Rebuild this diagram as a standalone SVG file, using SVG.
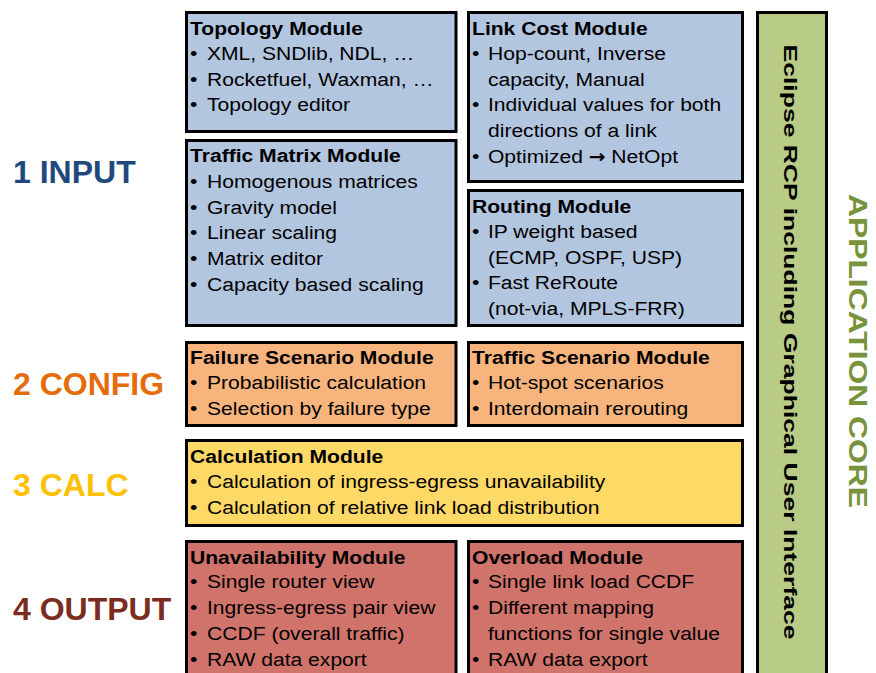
<svg xmlns="http://www.w3.org/2000/svg" width="876" height="673" viewBox="0 0 876 673">
<style>
.box{stroke:#000;stroke-width:3}
.blue{fill:#b3c6df}.orange{fill:#f7b47d}.yellow{fill:#ffd966}.red{fill:#d0736b}.green{fill:#b8cc86}
text{font-family:"Liberation Sans",Arial,sans-serif;fill:#000}
.t{font-size:19px;font-weight:bold}
.b{font-size:19px}
.lbl{font-size:32px;font-weight:bold}
.vert{font-weight:bold}
.arr{font-family:"DejaVu Sans",sans-serif;font-weight:bold;font-size:18px}
</style>
<rect width="876" height="673" fill="#fff"/>

<g id="labels">
<text class="lbl" x="13" y="183" style="fill:#1f497d">1 INPUT</text>
<text class="lbl" x="13" y="395" style="fill:#e46c0a">2 CONFIG</text>
<text class="lbl" x="13" y="496" style="fill:#ffc000">3 CALC</text>
<text class="lbl" x="13" y="620" style="fill:#7b2c20">4 OUTPUT</text>
</g>

<g id="topology">
<rect class="box blue" x="186.5" y="12.5" width="269.5" height="119"/>
<g transform="translate(190 0) scale(1.11 1)">
<text class="t" x="0" y="35">Topology Module</text>
<text class="b" x="0" y="60">•</text><text class="b" x="15.3" y="60">XML, SNDlib, NDL, …</text>
<text class="b" x="0" y="86">•</text><text class="b" x="15.3" y="86">Rocketfuel, Waxman, …</text>
<text class="b" x="0" y="111">•</text><text class="b" x="15.3" y="111">Topology editor</text>
</g>
</g>

<g id="traffic-matrix">
<rect class="box blue" x="186.5" y="140.5" width="269.5" height="185"/>
<g transform="translate(190 0) scale(1.11 1)">
<text class="t" x="0" y="162">Traffic Matrix Module</text>
<text class="b" x="0" y="188">•</text><text class="b" x="15.3" y="188">Homogenous matrices</text>
<text class="b" x="0" y="214">•</text><text class="b" x="15.3" y="214">Gravity model</text>
<text class="b" x="0" y="239">•</text><text class="b" x="15.3" y="239">Linear scaling</text>
<text class="b" x="0" y="265">•</text><text class="b" x="15.3" y="265">Matrix editor</text>
<text class="b" x="0" y="291">•</text><text class="b" x="15.3" y="291">Capacity based scaling</text>
</g>
</g>

<g id="link-cost">
<rect class="box blue" x="468.5" y="12.5" width="274" height="169"/>
<g transform="translate(472 0) scale(1.11 1)">
<text class="t" x="0" y="35">Link Cost Module</text>
<text class="b" x="0" y="60">•</text><text class="b" x="14.4" y="60">Hop-count, Inverse</text>
<text class="b" x="14.4" y="86">capacity, Manual</text>
<text class="b" x="0" y="111">•</text><text class="b" x="14.4" y="111">Individual values for both</text>
<text class="b" x="14.4" y="137">directions of a link</text>
<text class="b" x="0" y="163">•</text><text class="b" x="14.4" y="163">Optimized <tspan class="arr">→</tspan> NetOpt</text>
</g>
</g>

<g id="routing">
<rect class="box blue" x="468.5" y="190.5" width="274" height="135"/>
<g transform="translate(472 0) scale(1.11 1)">
<text class="t" x="0" y="213">Routing Module</text>
<text class="b" x="0" y="238">•</text><text class="b" x="14.4" y="238">IP weight based</text>
<text class="b" x="14.4" y="264">(ECMP, OSPF, USP)</text>
<text class="b" x="0" y="289">•</text><text class="b" x="14.4" y="289">Fast ReRoute</text>
<text class="b" x="14.4" y="315">(not-via, MPLS-FRR)</text>
</g>
</g>

<g id="failure-scenario">
<rect class="box orange" x="186.5" y="342.5" width="269.5" height="83"/>
<g transform="translate(190 0) scale(1.11 1)">
<text class="t" x="0" y="364">Failure Scenario Module</text>
<text class="b" x="0" y="389">•</text><text class="b" x="15.3" y="389">Probabilistic calculation</text>
<text class="b" x="0" y="415">•</text><text class="b" x="15.3" y="415">Selection by failure type</text>
</g>
</g>

<g id="traffic-scenario">
<rect class="box orange" x="468.5" y="342.5" width="274" height="83"/>
<g transform="translate(472 0) scale(1.11 1)">
<text class="t" x="0" y="364">Traffic Scenario Module</text>
<text class="b" x="0" y="389">•</text><text class="b" x="14.4" y="389">Hot-spot scenarios</text>
<text class="b" x="0" y="415">•</text><text class="b" x="14.4" y="415">Interdomain rerouting</text>
</g>
</g>

<g id="calculation">
<rect class="box yellow" x="186.5" y="440.5" width="556" height="85"/>
<g transform="translate(190 0) scale(1.11 1)">
<text class="t" x="0" y="463">Calculation Module</text>
<text class="b" x="0" y="488">•</text><text class="b" x="15.3" y="488">Calculation of ingress-egress unavailability</text>
<text class="b" x="0" y="514">•</text><text class="b" x="15.3" y="514">Calculation of relative link load distribution</text>
</g>
</g>

<g id="unavailability">
<rect class="box red" x="186.5" y="541.5" width="269.5" height="145"/>
<g transform="translate(190 0) scale(1.11 1)">
<text class="t" x="0" y="564">Unavailability Module</text>
<text class="b" x="0" y="588">•</text><text class="b" x="15.3" y="588">Single router view</text>
<text class="b" x="0" y="614">•</text><text class="b" x="15.3" y="614">Ingress-egress pair view</text>
<text class="b" x="0" y="640">•</text><text class="b" x="15.3" y="640">CCDF (overall traffic)</text>
<text class="b" x="0" y="666">•</text><text class="b" x="15.3" y="666">RAW data export</text>
</g>
</g>

<g id="overload">
<rect class="box red" x="468.5" y="541.5" width="274" height="145"/>
<g transform="translate(472 0) scale(1.11 1)">
<text class="t" x="0" y="564">Overload Module</text>
<text class="b" x="0" y="588">•</text><text class="b" x="14.4" y="588">Single link load CCDF</text>
<text class="b" x="0" y="614">•</text><text class="b" x="14.4" y="614">Different mapping</text>
<text class="b" x="14.4" y="640">functions for single value</text>
<text class="b" x="0" y="666">•</text><text class="b" x="14.4" y="666">RAW data export</text>
</g>
</g>

<g id="eclipse-rcp">
<rect class="box green" x="757.5" y="12.5" width="69" height="680"/>
<text class="vert" transform="translate(784 342) rotate(90)" x="0" y="0" text-anchor="middle" font-size="18" textLength="595" lengthAdjust="spacingAndGlyphs">Eclipse RCP including Graphical User Interface</text>
</g>

<g id="application-core">
<text class="vert" transform="translate(849 351) rotate(90)" x="0" y="0" text-anchor="middle" font-size="26" textLength="314" lengthAdjust="spacingAndGlyphs" style="fill:#77933c">APPLICATION CORE</text>
</g>
</svg>
